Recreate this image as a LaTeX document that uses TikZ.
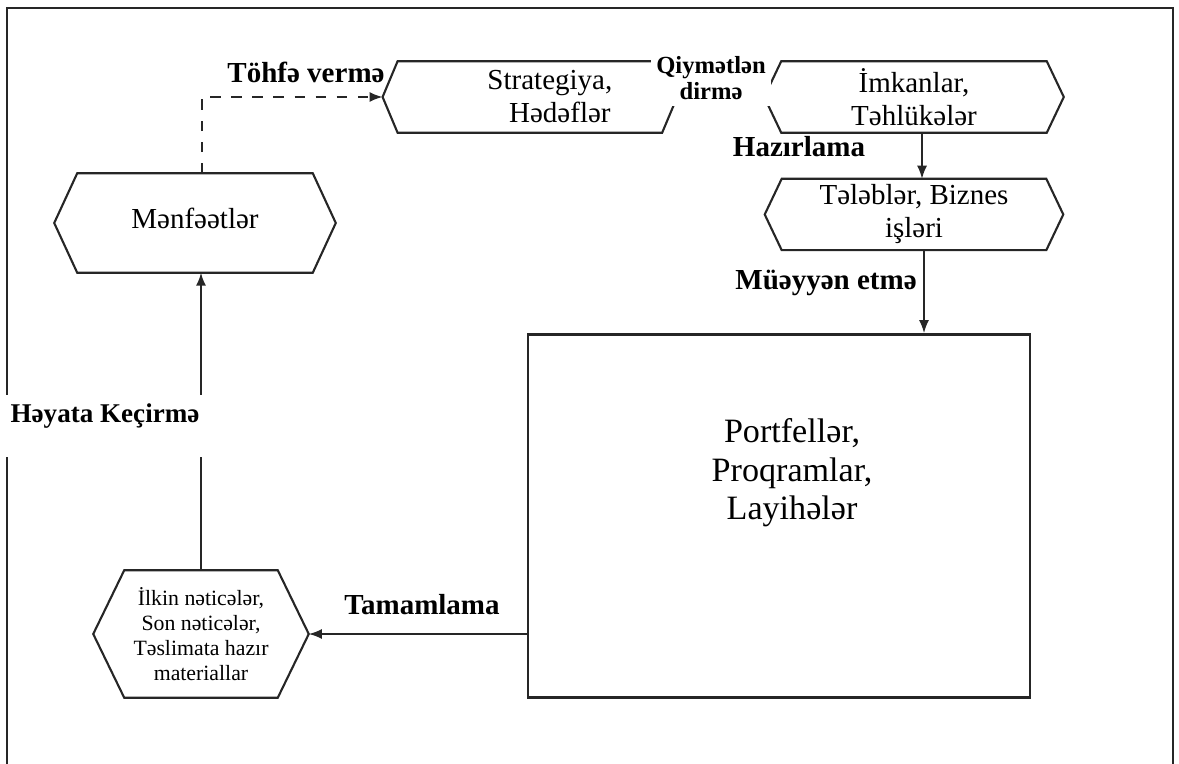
\documentclass[tikz,border=0pt]{standalone}
\usepackage{fontspec}
\setmainfont{Liberation Serif}
\usetikzlibrary{positioning, calc, arrows.meta}

\begin{document}
\begin{tikzpicture}[x=0.01cm, y=-0.01cm, >={Latex[length=1.3mm,width=1mm]},
                    hexa/.style={inner sep=0pt, align=center, font=\fontsize{8.25}{9.4}\selectfont},
                    hexline/.style={draw=black!85, line width=0.6pt},
                    bigbox/.style={draw=black!85, line width=0.7pt, minimum width=5.02cm, minimum height=3.63cm},
                    lbl/.style={font=\bfseries\fontsize{8.25}{9.4}\selectfont, inner sep=1pt},
                    conn/.style={draw=black!85, line width=0.5pt}]

    \useasboundingbox (0,0) rectangle (1179,764);
    % Frame
    \draw[line width=0.7pt, black!85] (7,764) -- (7,8) -- (1173,8) -- (1173,764);

    % Nodes
    \node[hexa, minimum width=2.80cm, minimum height=0.98cm, text depth=0.1cm] (men) at (195,223) {Mənfəətlər};
    \node[hexa, minimum width=2.98cm, minimum height=0.70cm] (imk) at (914,97) {İmkanlar,\\Təhlükələr};
    \node[hexa, minimum width=2.93cm, minimum height=0.70cm, left=0.87cm of imk] (str) {\hspace*{0.4cm}Strategiya,\\\hspace*{0.6cm}Hədəflər};
    \node[hexa, minimum width=2.97cm, minimum height=0.70cm, below=0.46cm of imk] (tel) {Tələblər, Biznes\\işləri};
    \node[bigbox] (port) at (779,516) {};
    \node[align=center, font=\fontsize{9.7}{10.9}\selectfont] (porttext) at (792,473) {Portfellər,\\Proqramlar,\\Layihələr};
    \node[hexa, minimum width=2.14cm, minimum height=1.26cm, font=\fontsize{6.2}{7.1}\selectfont] (res) at (201,634) {İlkin nəticələr,\\Son nəticələr,\\Təslimata hazır\\materiallar};

    % Hexagon outlines
    \foreach \n/\s in {men/23, str/15, imk/17, tel/17, res/31}
        \draw[hexline] ($(\n.north west)+(\s,0)$) -- ($(\n.north east)-(\s,0)$) -- (\n.east)
            -- ($(\n.south east)-(\s,0)$) -- ($(\n.south west)+(\s,0)$) -- (\n.west) -- cycle;

    % Paths
    \draw[conn, dashed, ->] ([xshift=0.07cm]men.north) |- (str.west);
    \draw[conn, ->] ([xshift=0.08cm]imk.south) -- ([xshift=0.08cm]tel.north);
    \draw[conn, ->] ([xshift=0.1cm]tel.south) -- ([xshift=0.1cm]tel.south |- port.north);
    \draw[conn, ->] (res.east -| port.west) -- (res.east);
    \draw[conn, ->] (res.north) -- (res.north |- men.south);

    % Labels
    \node[lbl] (tohfe) at (306,72) {Töhfə vermə};
    \node[lbl, fill=white, align=center, font=\bfseries\fontsize{7}{7.4}\selectfont, minimum width=1.19cm, minimum height=0.56cm] (qiy) at (711,78) {Qiymətlən\\dirmə};
    \node[lbl] (haz) at (799,147) {Hazırlama};
    \node[lbl] (mue) at (826,283) {Müəyyən etmə};
    \node[lbl, fill=white, font=\bfseries\fontsize{7.7}{9}\selectfont, text depth=0.26cm, inner ysep=0.05cm, minimum width=1.98cm, minimum height=0.61cm] (hay) at (105,426) {Həyata Keçirmə};
    \node[lbl] (tam) at (422,605) {Tamamlama};

\end{tikzpicture}
\end{document}
